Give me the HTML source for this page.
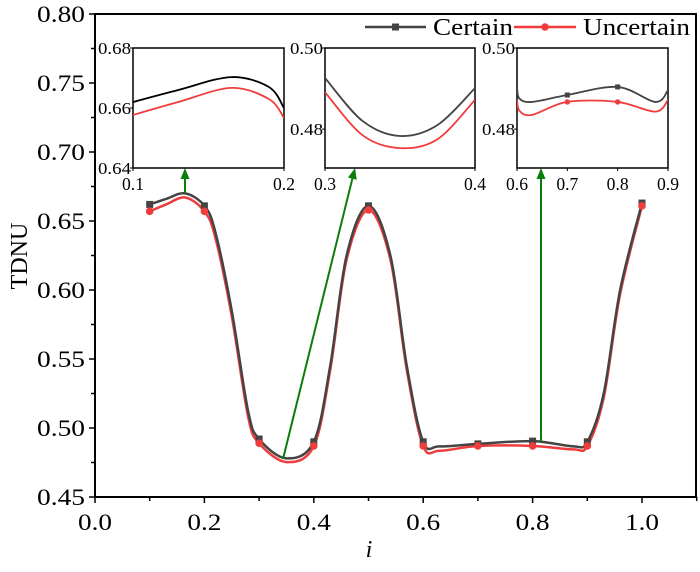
<!DOCTYPE html>
<html><head><meta charset="utf-8"><style>
body{margin:0;background:#fff}
svg text{font-family:"Liberation Serif",serif;fill:#000}
</style></head><body>
<svg id="chart" width="700" height="567" viewBox="0 0 700 567"></svg>
<script>
// ---- data ----
const markerX = [0.1,0.2,0.3,0.4,0.5,0.6,0.7,0.8,0.9,1.0];
const certainMarkers = [0.662,0.661,0.492,0.490,0.661,0.490,0.4885,0.4905,0.490,0.663];
const uncertainMarkers = [0.657,0.657,0.489,0.487,0.658,0.487,0.487,0.487,0.487,0.661];
const curveX = [0.1,0.13,0.165,0.2,0.22,0.25,0.28,0.3,0.35,0.4,0.43,0.46,0.5,0.54,0.57,0.6,0.63,0.7,0.8,0.875,0.9,0.93,0.96,1.0];
const certainCurve = [0.662,0.666,0.670,0.661,0.642,0.585,0.512,0.492,0.478,0.490,0.545,0.625,0.661,0.625,0.545,0.490,0.4867,0.4885,0.4905,0.4867,0.490,0.525,0.600,0.663];
const uncertainCurve = [0.657,0.662,0.667,0.657,0.638,0.581,0.508,0.489,0.4753,0.487,0.542,0.622,0.658,0.622,0.542,0.487,0.4835,0.487,0.487,0.4845,0.487,0.522,0.597,0.661];
const xTicks = ["0.0","0.2","0.4","0.6","0.8","1.0"];
const yTicks = ["0.45","0.50","0.55","0.60","0.65","0.70","0.75","0.80"];
// insets
const in1X=[0.1,0.13,0.165,0.19,0.2], in1C=[0.662,0.666,0.6703,0.667,0.660], in1U=[0.6577,0.662,0.6667,0.663,0.6567];
const in2X=[0.3,0.325,0.35,0.375,0.4], in2C=[0.4926,0.482,0.4783,0.481,0.4901], in2U=[0.4891,0.4785,0.4753,0.4775,0.4872];
const in3X=[0.6,0.605,0.63,0.7,0.8,0.875,0.9], in3C=[0.4901,0.4875,0.4867,0.4884,0.4904,0.4867,0.4896], in3U=[0.4872,0.4845,0.4835,0.4867,0.4867,0.4843,0.4872];

const NS="http://www.w3.org/2000/svg";
const svg=document.getElementById('chart');
function mk(tag,attrs,parent){const e=document.createElementNS(NS,tag);for(const k in attrs)e.setAttribute(k,attrs[k]);(parent||svg).appendChild(e);return e;}
const X0=95,X1=642,YB=497,YT=14;
const sx=v=>X0+(v-0)*(X1-X0)/1.0;
const sy=v=>YB-(v-0.45)*(YB-YT)/0.35;
function catmull(xs,ys,fx,fy){
  const p=xs.map((x,i)=>[fx(x),fy(ys[i])]);
  let d="M"+p[0][0]+","+p[0][1];
  for(let i=0;i<p.length-1;i++){
    const p0=p[Math.max(0,i-1)],p1=p[i],p2=p[i+1],p3=p[Math.min(p.length-1,i+2)];
    const c1=[p1[0]+(p2[0]-p0[0])/6,p1[1]+(p2[1]-p0[1])/6];
    const c2=[p2[0]-(p3[0]-p1[0])/6,p2[1]-(p3[1]-p1[1])/6];
    d+=" C"+c1[0]+","+c1[1]+" "+c2[0]+","+c2[1]+" "+p2[0]+","+p2[1];
  }
  return d;
}
let fr=mk('rect',{x:X0,y:YT,width:696-X0,height:YB-YT,fill:'none',stroke:'#000','stroke-width':2});


yTicks.forEach((t,i)=>{
  const v=parseFloat(t),y=sy(v);
  mk('line',{x1:X0-6,x2:X0,y1:y,y2:y,stroke:'#000','stroke-width':1.5});
  if(i<yTicks.length-1){const ym=sy(v+0.025);mk('line',{x1:X0-4,x2:X0,y1:ym,y2:ym,stroke:'#000','stroke-width':1.5});}
  const tx=mk('text',{x:X0-58,y:y+8,'font-size':23,textLength:48,lengthAdjust:'spacingAndGlyphs'});
  tx.textContent=t;
  
  
});
xTicks.forEach(t=>{
  const v=parseFloat(t),x=sx(v);
  mk('line',{x1:x,x2:x,y1:YB,y2:YB+6,stroke:'#000','stroke-width':1.5});
  const xm=sx(v+0.1);mk('line',{x1:xm,x2:xm,y1:YB,y2:YB+4,stroke:'#000','stroke-width':1.5});
  const tx=mk('text',{x:x-17,y:YB+33,'font-size':23,textLength:34,lengthAdjust:'spacingAndGlyphs'});
  tx.textContent=t;
  
  
});
let yt=mk('text',{x:0,y:0,'text-anchor':'middle','font-size':24,transform:'translate(27,256) rotate(-90)'});
yt.textContent='TDNU';


let xt=mk('text',{x:369,y:557,'text-anchor':'middle','font-size':24,'font-style':'italic'});
xt.textContent='i';


let lu=mk('path',{d:catmull(curveX,uncertainCurve,sx,sy),fill:'none',stroke:'#f03c3c','stroke-width':2.5});


let lc=mk('path',{d:catmull(curveX,certainCurve,sx,sy),fill:'none',stroke:'#444','stroke-width':2.5});


markerX.forEach((x,i)=>{
  const r=mk('rect',{x:sx(x)-3.5,y:sy(certainMarkers[i])-3.5,width:7,height:7,fill:'#444'});
  
  
  const c=mk('circle',{cx:sx(x),cy:sy(uncertainMarkers[i]),r:3.8,fill:'#f03c3c'});
  
  
});
// green arrows with explicit heads
[[185,193,185,168],[283,459,355,168],[541,442,541,168]].forEach((a,i)=>{
  const g=mk('g',{});
  
  
  const dx=a[2]-a[0],dy=a[3]-a[1],L=Math.hypot(dx,dy),ux=dx/L,uy=dy/L,px=-uy,py=ux,h=11,w=4.5;
  const bx=a[2]-ux*h,by=a[3]-uy*h;
  mk('line',{x1:a[0],y1:a[1],x2:bx,y2:by,stroke:'#0a7d0a','stroke-width':2},g);
  mk('polygon',{points:`${a[2]},${a[3]} ${bx+px*w},${by+py*w} ${bx-px*w},${by-py*w}`,fill:'#0a7d0a'},g);
});
function inset(name,left,right,xmin,xmax,ymin,ymax,xs,cs,us,xl,yl,mx,mc,mu){
  const top=48,bot=168;
  const fx=v=>left+(v-xmin)*(right-left)/(xmax-xmin);
  const fy=v=>bot-(v-ymin)*(bot-top)/(ymax-ymin);
  const g=mk('g',{});
  
  
  mk('rect',{x:left,y:top,width:right-left,height:bot-top,fill:'#fff',stroke:'#000','stroke-width':1.5},g);
  const cp=mk('clipPath',{id:name+'c'},g);
  mk('rect',{x:left,y:top,width:right-left,height:bot-top},cp);
  mk('path',{d:catmull(xs,us,fx,fy),fill:'none',stroke:'#f03c3c','stroke-width':1.8,'clip-path':'url(#'+name+'c)'},g);
  mk('path',{d:catmull(xs,cs,fx,fy),fill:'none',stroke:name==='inset-1'?'#000':'#444','stroke-width':1.8,'clip-path':'url(#'+name+'c)'},g);
  (mx||[]).forEach((x,i)=>{mk('rect',{x:fx(x)-2.5,y:fy(mc[i])-2.5,width:5,height:5,fill:'#444'},g);mk('circle',{cx:fx(x),cy:fy(mu[i]),r:2.7,fill:'#f03c3c'},g);});
  xl.forEach(t=>{const x=fx(parseFloat(t));mk('line',{x1:x,x2:x,y1:bot,y2:bot+3,stroke:'#000'},g);const e=mk('text',{x:x-11,y:bot+22,'font-size':18,textLength:22,lengthAdjust:'spacingAndGlyphs'},g);e.textContent=t;});
  yl.forEach(t=>{const y=fy(parseFloat(t));mk('line',{x1:left-3,x2:left,y1:y,y2:y,stroke:'#000'},g);const e=mk('text',{x:left-35,y:y+6,'font-size':17,textLength:33,lengthAdjust:'spacingAndGlyphs'},g);e.textContent=t;});
}
inset('inset-1',133,284,0.1,0.2,0.64,0.68,in1X,in1C,in1U,["0.1","0.2"],["0.64","0.66","0.68"]);
inset('inset-2',325,475,0.3,0.4,0.4704,0.50,in2X,in2C,in2U,["0.3","0.4"],["0.48","0.50"]);
inset('inset-3',517,668,0.6,0.9,0.4704,0.50,in3X,in3C,in3U,["0.6","0.7","0.8","0.9"],["0.48","0.50"],[0.7,0.8],[0.4884,0.4904],[0.4867,0.4867]);
const lg=mk('g',{});


mk('line',{x1:365,x2:426,y1:27,y2:27,stroke:'#444','stroke-width':2.5},lg);
mk('rect',{x:392,y:23.5,width:7,height:7,fill:'#444'},lg);
let t1=mk('text',{x:433,y:35,'font-size':24,textLength:80,lengthAdjust:'spacingAndGlyphs'},lg);t1.textContent='Certain';


mk('line',{x1:514,x2:576,y1:27,y2:27,stroke:'#f03c3c','stroke-width':2.5},lg);
mk('circle',{cx:545,cy:27,r:3.8,fill:'#f03c3c'},lg);
let t2=mk('text',{x:583,y:35,'font-size':24,textLength:107,lengthAdjust:'spacingAndGlyphs'},lg);t2.textContent='Uncertain';


</script>
</body></html>
